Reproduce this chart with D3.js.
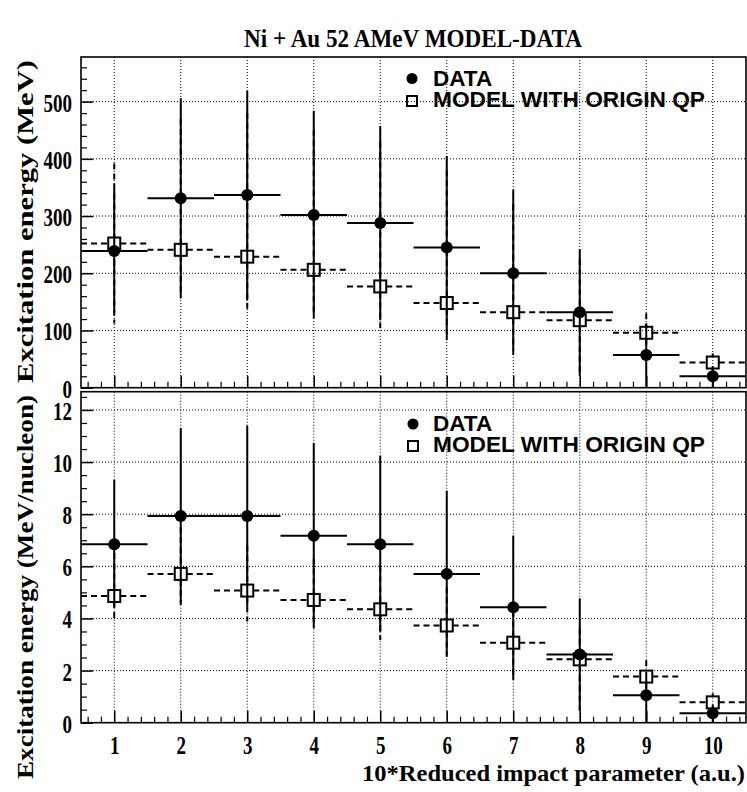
<!DOCTYPE html>
<html><head><meta charset="utf-8">
<script src="https://cdn.jsdelivr.net/npm/d3@7"></script>
<style>body{margin:0;background:#fff}svg{display:block}</style>
</head><body><svg id="c" width="747" height="792"></svg>
<script>
// ---------------- data ----------------
const bins = [1, 2, 3, 4, 5, 6, 7, 8, 9, 10];
const binHalfWidth = 0.5;

// Top panel: excitation energy (MeV)
const dataMeV     = [239, 331, 337, 302, 288, 245, 200, 132, 57, 20];
const dataMeVLo   = [130, 156, 153, 121, 118, 83, 57, 20, 0, 0];
const dataMeVHi   = [347, 506, 519, 484, 457, 405, 346, 242, 110, 38];
const modelMeV    = [252, 241, 229, 206, 177, 148, 132, 118, 96, 44];
const modelMeVLo  = [112, 165, 136, 125, 104, 95, 65, 25, 62, 28];
const modelMeVHi  = [392, 470, 480, 450, 430, 380, 320, 225, 130, 60];

// Bottom panel: excitation energy (MeV/nucleon)
const dataA       = [6.85, 7.93, 7.93, 7.17, 6.85, 5.71, 4.43, 2.62, 1.05, 0.36];
const dataALo     = [4.45, 4.52, 4.45, 3.62, 3.49, 2.53, 1.64, 0.45, 0, 0];
const dataAHi     = [9.32, 11.3, 11.4, 10.73, 10.24, 8.9, 7.18, 4.77, 1.95, 0.7];
const modelA      = [4.86, 5.71, 5.07, 4.71, 4.35, 3.73, 3.07, 2.43, 1.77, 0.78];
const modelALo    = [3.95, 4.6, 3.88, 3.7, 3.17, 2.6, 1.7, 0.5, 1.2, 0.45];
const modelAHi    = [6.5, 7.5, 6.8, 6.3, 6.0, 5.2, 4.3, 3.6, 2.4, 1.13];

// ticks / labels
const xTicks = [1, 2, 3, 4, 5, 6, 7, 8, 9, 10];
const topYTicks = [0, 100, 200, 300, 400, 500];
const botYTicks = [0, 2, 4, 6, 8, 10, 12];
const titleText = "Ni + Au 52 AMeV MODEL-DATA";
const xTitleText = "10*Reduced impact parameter (a.u.)";
const topYTitle = "Excitation energy  (MeV)";
const botYTitle = "Excitation energy  (MeV/nucleon)";
const legendLabels = ["DATA", "MODEL WITH ORIGIN QP"];

// ---------------- layout ----------------
const X0 = 81, X1 = 746;
const SERIF = "'Liberation Serif','Times New Roman',serif";
const SANS = "'Liberation Sans',Arial,Helvetica,sans-serif";
const svg = d3.select("#c");
const x = d3.scaleLinear().domain([0.5, 10.5]).range([X0, X1]);

const panels = [
  { top: 57, bottom: 387.7, dom: [0, 578], ticks: topYTicks, minor: d3.range(0, 578, 20),
    d: dataMeV, dLo: dataMeVLo, dHi: dataMeVHi, m: modelMeV, mLo: modelMeVLo, mHi: modelMeVHi,
    xLabels: false, ytitle: topYTitle, ytitleTop: 60, ytitleBot: 383 },
  { top: 391.7, bottom: 722.7, dom: [0, 12.7], ticks: botYTicks, minor: d3.range(0, 12.7, 0.5),
    d: dataA, dLo: dataALo, dHi: dataAHi, m: modelA, mLo: modelALo, mHi: modelAHi,
    xLabels: true, ytitle: botYTitle, ytitleTop: 395, ytitleBot: 779 }
];
const legendPos = [
  { cx: 412, cy1: 78.5, cy2: 101, tx: 433, ty1: 86, ty2: 107 },
  { cx: 413, cy1: 424, cy2: 446, tx: 433, ty1: 431, ty2: 452 }
];

const xMinor = d3.range(0.6, 10.45, 0.2).filter(v => Math.abs(v - Math.round(v)) > 1e-6);
const R = 6, S = 6; // marker half-sizes

panels.forEach((p, pi) => {
  const y = d3.scaleLinear().domain(p.dom).range([p.bottom, p.top]);
  const g = svg.append("g");

  // grid
  g.selectAll(".gx").data(xTicks).join("line")
    .attr("x1", d => x(d)).attr("x2", d => x(d)).attr("y1", p.top).attr("y2", p.bottom)
    .attr("stroke", "#000").attr("stroke-width", 1).attr("stroke-dasharray", "1,2");
  g.selectAll(".gy").data(p.ticks.filter(t => t > p.dom[0])).join("line")
    .attr("x1", X0).attr("x2", X1).attr("y1", d => y(d)).attr("y2", d => y(d))
    .attr("stroke", "#000").attr("stroke-width", 1).attr("stroke-dasharray", "1,2");

  // model (dashed, gap at marker)
  const mg = g.append("g").attr("stroke", "#000").attr("stroke-width", 2)
    .attr("stroke-dasharray", "6,4").attr("fill", "none");
  bins.forEach((b, i) => {
    const cx = x(b), cy = y(p.m[i]);
    mg.append("line").attr("x1", x(b - binHalfWidth)).attr("x2", cx - S).attr("y1", cy).attr("y2", cy);
    mg.append("line").attr("x1", cx + S).attr("x2", x(b + binHalfWidth)).attr("y1", cy).attr("y2", cy);
    if (y(p.mHi[i]) < cy - S) mg.append("line").attr("x1", cx).attr("x2", cx).attr("y1", y(p.mHi[i])).attr("y2", cy - S);
    if (y(p.mLo[i]) > cy + S) mg.append("line").attr("x1", cx).attr("x2", cx).attr("y1", cy + S).attr("y2", y(p.mLo[i]));
  });

  // data (solid)
  const dg = g.append("g").attr("stroke", "#000").attr("stroke-width", 2);
  bins.forEach((b, i) => {
    const cx = x(b), cy = y(p.d[i]);
    dg.append("line").attr("x1", x(b - binHalfWidth)).attr("x2", x(b + binHalfWidth)).attr("y1", cy).attr("y2", cy);
    dg.append("line").attr("x1", cx).attr("x2", cx).attr("y1", y(p.dHi[i])).attr("y2", y(p.dLo[i]));
  });
  // model squares (hollow)
  g.selectAll(".sq").data(bins).join("rect")
    .attr("x", d => x(d) - S).attr("y", (d, i) => y(p.m[i]) - S)
    .attr("width", 2 * S).attr("height", 2 * S)
    .attr("fill", "none").attr("stroke", "#000").attr("stroke-width", 2);
  // data circles
  g.selectAll(".ci").data(bins).join("circle")
    .attr("cx", d => x(d)).attr("cy", (d, i) => y(p.d[i])).attr("r", R).attr("fill", "#000");

  // frame
  g.append("rect").attr("x", X0).attr("y", p.top).attr("width", X1 - X0).attr("height", p.bottom - p.top)
    .attr("fill", "none").attr("stroke", "#000").attr("stroke-width", 1.6);

  // y axis (inward ticks)
  const ya = g.append("g").attr("transform", `translate(${X0},0)`)
    .call(d3.axisLeft(y).tickValues(p.ticks).tickSizeInner(-12).tickSizeOuter(0).tickPadding(9).tickFormat(d3.format("d")));
  ya.select(".domain").remove();
  ya.selectAll("line").attr("stroke-width", 1.5);
  ya.selectAll(".tick text").attr("font-family", SERIF).attr("font-weight", "bold").attr("font-size", 25)
    .attr("x", null).attr("dy", null).attr("dominant-baseline", "central")
    .attr("transform", "translate(-9,1) scale(0.76,1)");
  const yam = g.append("g").attr("transform", `translate(${X0},0)`)
    .call(d3.axisLeft(y).tickValues(p.minor.filter(v => p.ticks.indexOf(v) < 0)).tickSizeInner(-6).tickSizeOuter(0).tickFormat(""));
  yam.select(".domain").remove();
  yam.selectAll("line").attr("stroke-width", 1.2);

  // x axis
  const xa = g.append("g").attr("transform", `translate(0,${p.bottom})`)
    .call(d3.axisBottom(x).tickValues(xTicks).tickSizeInner(-12).tickSizeOuter(0).tickPadding(12)
      .tickFormat(p.xLabels ? d3.format("d") : ""));
  xa.select(".domain").remove();
  xa.selectAll("line").attr("stroke-width", 1.5);
  xa.selectAll(".tick text").attr("font-family", SERIF).attr("font-weight", "bold").attr("font-size", 25)
    .attr("y", null).attr("dy", null).attr("transform", "translate(0,31) scale(0.76,1)");
  const xam = g.append("g").attr("transform", `translate(0,${p.bottom})`)
    .call(d3.axisBottom(x).tickValues(xMinor).tickSizeInner(-6).tickSizeOuter(0).tickFormat(""));
  xam.select(".domain").remove();
  xam.selectAll("line").attr("stroke-width", 1.2);

  // y title
  g.append("text").text(p.ytitle)
    .attr("font-family", SERIF).attr("font-weight", "bold").attr("font-size", 23)
    .attr("text-anchor", "end")
    .attr("transform", `translate(33,${p.ytitleTop}) rotate(-90)`)
    .attr("textLength", p.ytitleBot - p.ytitleTop).attr("lengthAdjust", "spacingAndGlyphs");

  // legend
  const L = legendPos[pi];
  g.append("circle").attr("cx", L.cx).attr("cy", L.cy1).attr("r", 5.5).attr("fill", "#000");
  g.append("rect").attr("x", L.cx - 5).attr("y", L.cy2 - 5).attr("width", 10).attr("height", 10)
    .attr("fill", "none").attr("stroke", "#000").attr("stroke-width", 2);
  g.append("text").text(legendLabels[0]).attr("x", L.tx).attr("y", L.ty1)
    .attr("font-family", SANS).attr("font-weight", "bold").attr("font-size", 22.5);
  g.append("text").text(legendLabels[1]).attr("x", L.tx).attr("y", L.ty2)
    .attr("font-family", SANS).attr("font-weight", "bold").attr("font-size", 22.5)
    .attr("textLength", 272).attr("lengthAdjust", "spacingAndGlyphs");
});

// title
svg.append("text").text(titleText).attr("x", 413).attr("y", 47)
  .attr("text-anchor", "middle").attr("font-family", SERIF).attr("font-weight", "bold").attr("font-size", 26)
  .attr("textLength", 338).attr("lengthAdjust", "spacingAndGlyphs");

// x title
svg.append("text").text(xTitleText).attr("x", 745).attr("y", 781)
  .attr("text-anchor", "end").attr("font-family", SERIF).attr("font-weight", "bold").attr("font-size", 23)
  .attr("textLength", 383).attr("lengthAdjust", "spacingAndGlyphs");
</script></body></html>
